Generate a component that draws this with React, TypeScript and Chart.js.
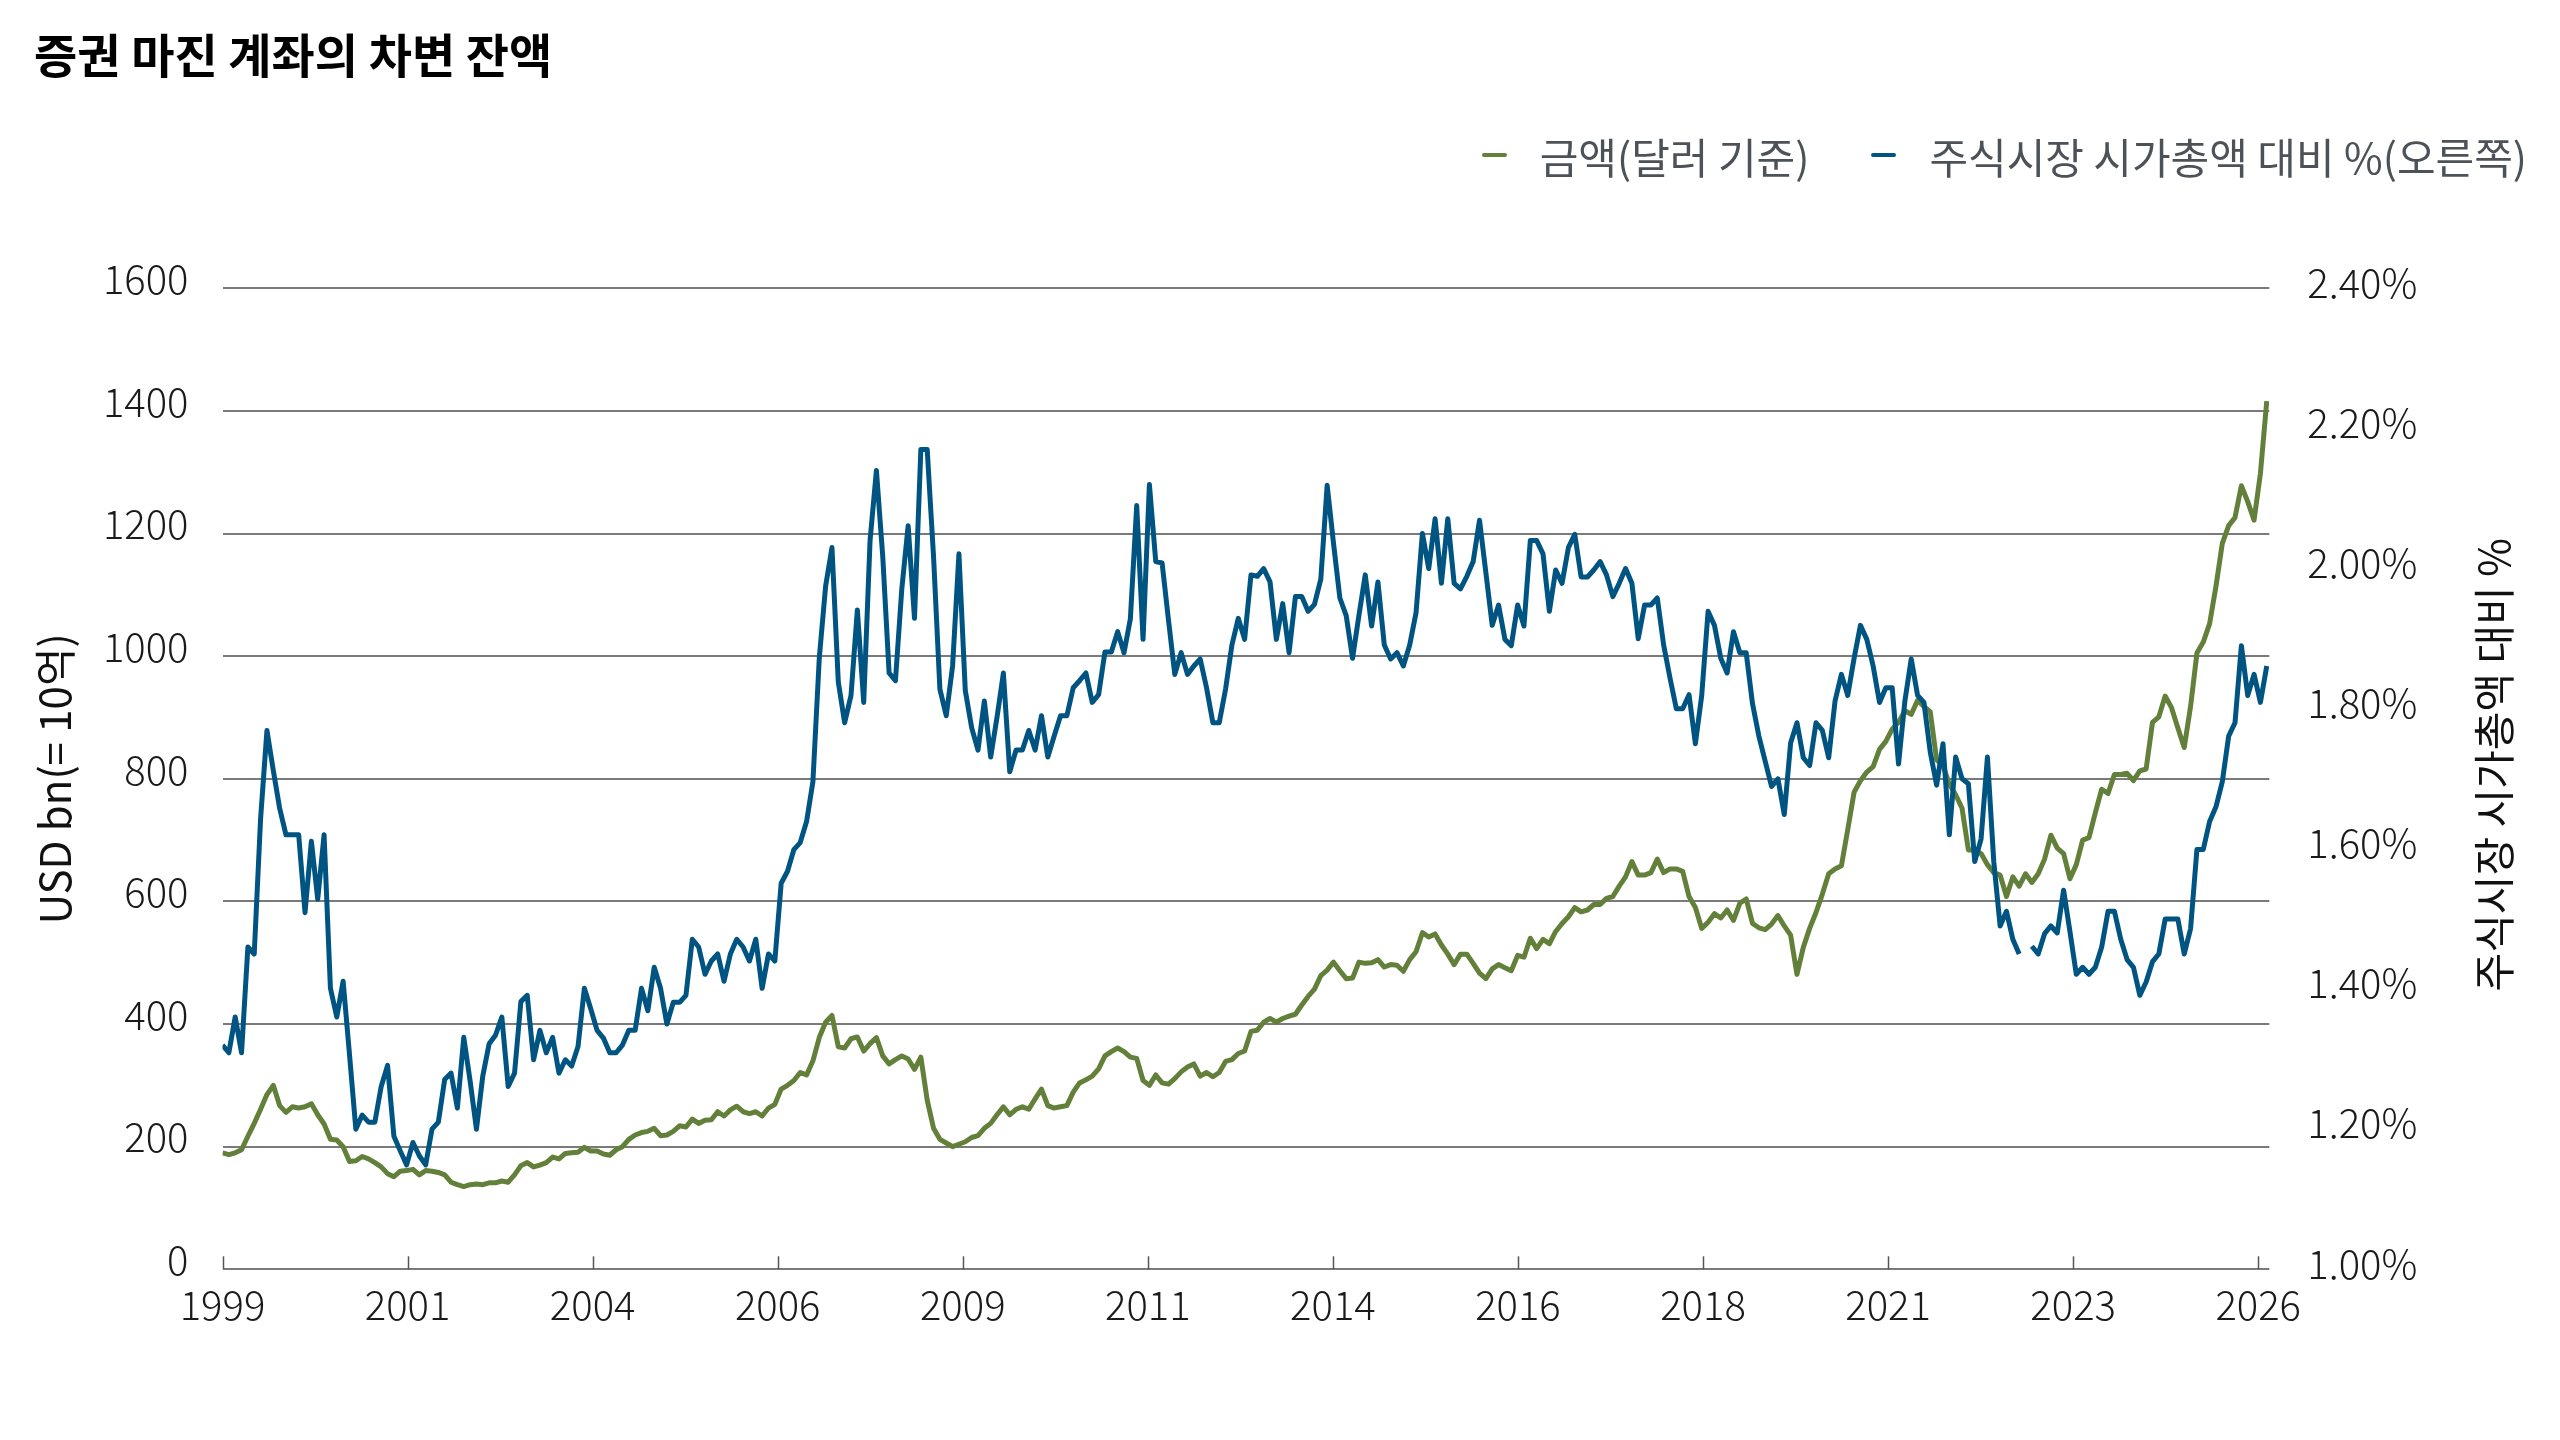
import { useEffect, useRef } from "react"
import { Chart, registerables } from "chart.js"

Chart.register(...registerables)

const TITLE = "증권 마진 계좌의 차변 잔액"
const SERIES_NAMES = ["금액(달러 기준)", "주식시장 시가총액 대비 %(오른쪽)"]
const LEFT_AXIS_TITLE = "USD bn(= 10억)"
const RIGHT_AXIS_TITLE = "주식시장 시가총액 대비 %"

// x-axis labels, one label every ~29 months from the first month
const YEAR_LABELS = ["1999", "2001", "2004", "2006", "2009", "2011", "2014", "2016", "2018", "2021", "2023", "2026"]
const MONTHS_PER_LABEL = 29.15

// monthly debit balance, USD bn
const MARGIN_DEBT = [
  190, 187, 190, 195, 217, 238, 261, 285, 300, 267,
  256, 265, 263, 265, 270, 252, 237, 212, 211, 200,
  176, 177, 184, 180, 174, 167, 156, 151, 160, 161,
  163, 154, 161, 160, 158, 154, 142, 138, 135, 138,
  139, 138, 141, 141, 144, 142, 154, 169, 174, 167,
  170, 174, 183, 180, 189, 190, 191, 199, 193, 193,
  188, 186, 195, 200, 212, 219, 223,
  225, 230, 218, 219, 225, 234, 232, 245, 238, 243,
  244, 257, 250, 260, 266, 257, 254, 257, 250, 263,
  269, 294, 300, 308, 321, 317, 340, 378, 403, 414,
  363, 361, 376, 379, 356, 368, 378, 348, 335, 342,
  348, 343, 326, 346, 276, 230, 212, 206, 200, 204,
  208, 215, 218, 230, 238, 252, 265, 252, 261, 265,
  261, 278, 294, 267, 263, 265, 267,
  289, 304, 309, 315, 327, 348, 355, 361, 355, 346,
  344, 308, 300, 317, 304, 302, 311, 322, 330, 335,
  315, 321, 314, 321, 339, 342, 352, 356, 388, 390,
  403, 409, 403, 409, 413, 416, 431, 445, 457, 479,
  488, 501, 487, 474, 475, 501, 499, 500, 505, 493,
  497, 496, 486, 505, 518, 549, 542, 547, 529, 514,
  497, 514, 514, 499, 483, 474, 490,
  497, 492, 487, 512, 509, 540, 523, 538, 531, 551,
  564, 575, 590, 583, 586, 595, 595, 605, 608, 625,
  640, 665, 643, 643, 647, 669, 647, 653, 653, 649,
  608, 590, 556, 566, 580, 573, 586, 569, 597, 604,
  564, 557, 554, 563, 577, 560, 545, 481, 525, 556,
  582, 612, 645, 653, 658, 717, 778, 797, 811, 820,
  848, 861, 881, 892, 911, 905, 928,
  918, 909, 831, 822, 791, 774, 752, 684, 684, 678,
  660, 647, 643, 608, 640, 625, 645, 631, 645, 669,
  708, 687, 678, 637, 660, 700, 704, 745, 783, 776,
  807, 807, 809, 797, 813, 816, 892, 901, 935, 916,
  883, 851, 918, 1005, 1023, 1053, 1114, 1184, 1213, 1226,
  1278, 1252, 1222, 1298, 1416,
]

// monthly debit balance as % of stock market cap (null = missing month)
const PCT_OF_MARKET_CAP = [
  1.320, 1.309, 1.360, 1.309, 1.460, 1.450, 1.643, 1.769, 1.712, 1.658,
  1.620, 1.620, 1.620, 1.509, 1.611, 1.528, 1.620, 1.401, 1.360, 1.411,
  1.307, 1.200, 1.220, 1.210, 1.210, 1.261, 1.291, 1.190, 1.169, 1.149,
  1.181, 1.162, 1.149, 1.200, 1.210, 1.271, 1.280, 1.230, 1.331, 1.269,
  1.200, 1.276, 1.322, 1.334, 1.360, 1.261, 1.280, 1.382, 1.391, 1.299,
  1.341, 1.309, 1.331, 1.280, 1.299, 1.290, 1.318, 1.401, 1.372, 1.341,
  1.330, 1.309, 1.309, 1.320, 1.341, 1.341, 1.401,
  1.369, 1.431, 1.401, 1.350, 1.381, 1.381, 1.391, 1.471, 1.460, 1.421,
  1.440, 1.450, 1.411, 1.450, 1.471, 1.460, 1.440, 1.471, 1.401, 1.450,
  1.440, 1.551, 1.568, 1.599, 1.609, 1.639, 1.696, 1.872, 1.975, 2.030,
  1.838, 1.780, 1.819, 1.941, 1.809, 2.040, 2.140, 2.017, 1.851, 1.840,
  1.971, 2.061, 1.929, 2.170, 2.170, 2.017, 1.828, 1.790, 1.861, 2.021,
  1.826, 1.773, 1.741, 1.811, 1.731, 1.788, 1.851, 1.710, 1.741, 1.741,
  1.769, 1.741, 1.790, 1.731, 1.761, 1.790, 1.790,
  1.830, 1.840, 1.851, 1.809, 1.820, 1.881, 1.881, 1.910, 1.880, 1.928,
  2.090, 1.899, 2.120, 2.010, 2.008, 1.927, 1.849, 1.880, 1.849, 1.861,
  1.871, 1.830, 1.780, 1.780, 1.828, 1.891, 1.929, 1.899, 1.991, 1.989,
  2.000, 1.981, 1.899, 1.950, 1.880, 1.960, 1.960, 1.939, 1.949, 1.985,
  2.119, 2.036, 1.958, 1.933, 1.872, 1.933, 1.991, 1.918, 1.981, 1.891,
  1.871, 1.880, 1.861, 1.891, 1.937, 2.050, 2.000, 2.071, 1.979, 2.071,
  1.979, 1.971, 1.989, 2.010, 2.069, 1.994, 1.919,
  1.948, 1.899, 1.890, 1.948, 1.918, 2.040, 2.040, 2.021, 1.939, 1.998,
  1.979, 2.030, 2.049, 1.988, 1.988, 1.998, 2.010, 1.991, 1.960, 1.979,
  2.000, 1.979, 1.900, 1.948, 1.948, 1.958, 1.891, 1.844, 1.800, 1.800,
  1.820, 1.750, 1.819, 1.939, 1.919, 1.872, 1.851, 1.910, 1.880, 1.880,
  1.807, 1.761, 1.725, 1.689, 1.700, 1.649, 1.751, 1.780, 1.730, 1.719,
  1.780, 1.769, 1.730, 1.811, 1.849, 1.819, 1.872, 1.919, 1.899, 1.861,
  1.809, 1.830, 1.830, 1.721, 1.811, 1.871, 1.819,
  1.809, 1.738, 1.691, 1.750, 1.620, 1.731, 1.700, 1.693, 1.582, 1.614,
  1.731, 1.582, 1.490, 1.511, 1.471, 1.450, null, 1.461, 1.450, 1.479,
  1.490, 1.480, 1.541, 1.482, 1.421, 1.431, 1.421, 1.431, 1.460, 1.511,
  1.511, 1.471, 1.442, 1.431, 1.391, 1.410, 1.439, 1.450, 1.500, 1.500,
  1.500, 1.450, 1.486, 1.599, 1.599, 1.639, 1.660, 1.696, 1.761, 1.780,
  1.890, 1.819, 1.849, 1.809, 1.861,
]

const GREEN = "#63803b"
const BLUE = "#005482"
const FONT = "'Noto Sans CJK KR', 'Noto Sans', sans-serif"

// small tick marks drawn upward from the bottom axis
const innerTicks = {
  id: "innerTicks",
  beforeDatasetsDraw(chart: any) {
    const { ctx, chartArea, scales } = chart
    const x = scales.x
    ctx.save()
    ctx.strokeStyle = "#555"
    ctx.lineWidth = 1.5
    x.ticks.forEach((t: any) => {
      const px = Math.round(x.getPixelForValue(t.value)) + 0.5
      ctx.beginPath()
      ctx.moveTo(px, chartArea.bottom)
      ctx.lineTo(px, chartArea.bottom - 13)
      ctx.stroke()
    })
    ctx.restore()
  },
}

// right axis title reads bottom-to-top like the left one
const rightTitle = {
  id: "rightTitle",
  afterDraw(chart: any) {
    const { ctx, chartArea } = chart
    ctx.save()
    ctx.translate(chartArea.right + 225, (chartArea.top + chartArea.bottom) / 2 - 14)
    ctx.rotate(-Math.PI / 2)
    ctx.font = `42px ${FONT}`
    ctx.fillStyle = "#111"
    ctx.textAlign = "center"
    ctx.textBaseline = "middle"
    ctx.fillText(RIGHT_AXIS_TITLE, 0, 0)
    ctx.restore()
  },
}

export default function App() {
  const chartRef = useRef<HTMLCanvasElement>(null)
  const chartInstance = useRef<Chart | null>(null)

  useEffect(() => {
    if (!chartRef.current) return
    if (chartInstance.current) chartInstance.current.destroy()

    const ctx = chartRef.current.getContext("2d")
    if (!ctx) return

    const tickFont = { family: FONT, size: 40, weight: 300 as any }

    chartInstance.current = new Chart(ctx, {
      type: "line",
      data: {
        datasets: [
          {
            label: SERIES_NAMES[0],
            data: MARGIN_DEBT.map((y, x) => ({ x, y })),
            yAxisID: "y",
            borderColor: GREEN,
            backgroundColor: GREEN,
            borderWidth: 5,
            borderJoinStyle: "round",
            pointRadius: 0,
            order: 2,
          },
          {
            label: SERIES_NAMES[1],
            data: PCT_OF_MARKET_CAP.map((y, x) => ({ x, y })),
            yAxisID: "y1",
            borderColor: BLUE,
            backgroundColor: BLUE,
            borderWidth: 5,
            borderJoinStyle: "round",
            pointRadius: 0,
            spanGaps: false,
            order: 1,
          },
        ],
      },
      options: {
        responsive: false,
        animation: false,
        devicePixelRatio: 1,
        layout: { padding: { left: 34, top: 0, right: 0, bottom: 0 } },
        plugins: {
          legend: { display: false },
          tooltip: { enabled: false },
          title: {
            display: true,
            text: TITLE,
            align: "start",
            color: "#000",
            font: { family: FONT, size: 47, weight: "bold" },
            padding: { top: 27, bottom: 204.9 },
          },
        },
        scales: {
          x: {
            type: "linear",
            min: 0,
            max: 322.4,
            grid: { display: false, drawTicks: false },
            border: { display: false },
            afterBuildTicks: (scale: any) => {
              scale.ticks = YEAR_LABELS.map((_, i) => ({ value: i * MONTHS_PER_LABEL }))
            },
            afterFit: (scale: any) => {
              scale.height = 170.7
            },
            ticks: {
              autoSkip: false,
              maxRotation: 0,
              padding: 11,
              color: "#1a1a1a",
              font: tickFont,
              callback: (_v: any, i: number) => YEAR_LABELS[i],
            },
          },
          y: {
            position: "left",
            min: 0,
            max: 1600,
            grid: { color: "#7a7a7a", lineWidth: 2, drawTicks: false },
            border: { display: false },
            afterFit: (scale: any) => {
              scale.width = 188.5
            },
            ticks: {
              stepSize: 200,
              padding: 34,
              labelOffset: -9.5,
              color: "#1a1a1a",
              font: tickFont,
              callback: (v: any) => String(v),
            },
            title: {
              display: true,
              text: LEFT_AXIS_TITLE,
              color: "#111",
              font: { family: FONT, size: 42, lineHeight: 1 },
              padding: 0,
            },
          },
          y1: {
            position: "right",
            min: 1,
            max: 2.4,
            grid: { display: false, drawTicks: false },
            border: { display: false },
            afterFit: (scale: any) => {
              scale.width = 290.7
            },
            ticks: {
              stepSize: 0.2,
              padding: 38,
              labelOffset: -6,
              color: "#1a1a1a",
              font: tickFont,
              callback: (v: any) => Number(v).toFixed(2) + "%",
            },
          },
        },
      },
      plugins: [innerTicks, rightTitle],
    })

    return () => {
      if (chartInstance.current) {
        chartInstance.current.destroy()
        chartInstance.current = null
      }
    }
  }, [])

  return (
    <div style={{ position: "fixed", left: 0, top: 0, width: 2560, height: 1440, background: "#fff" }}>
      <canvas ref={chartRef} width={2560} height={1440} style={{ position: "absolute", left: 0, top: 0 }}></canvas>
      <div
        style={{
          position: "absolute",
          right: 33,
          top: 130,
          height: 50,
          display: "flex",
          alignItems: "center",
          fontFamily: FONT,
          fontSize: 42,
          color: "#4d5259",
          whiteSpace: "nowrap",
        }}
      >
        {SERIES_NAMES.map((name, i) => (
          <div key={name} style={{ display: "flex", alignItems: "center", marginLeft: i ? 62 : 0 }}>
            <span
              style={{
                display: "inline-block",
                width: 25,
                height: 4.5,
                borderRadius: 3,
                background: i ? BLUE : GREEN,
                marginRight: 33,
              }}
            ></span>
            {name}
          </div>
        ))}
      </div>
    </div>
  )
}
